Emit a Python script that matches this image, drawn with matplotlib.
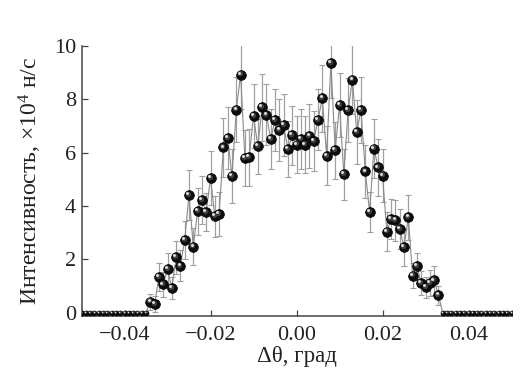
import matplotlib
matplotlib.use("Agg")
import matplotlib.pyplot as plt
from matplotlib.transforms import offset_copy

plt.rcParams['font.family'] = ['Liberation Serif', 'DejaVu Serif']
plt.rcParams['mathtext.fontset'] = 'custom'
plt.rcParams['mathtext.rm'] = 'Liberation Serif'
plt.rcParams['mathtext.it'] = 'Liberation Serif:italic'

# measured points (delta theta, deg) and intensity (x1e4 counts/s)
theta = [-0.034, -0.033, -0.032, -0.031, -0.030, -0.029, -0.028, -0.027, -0.026, -0.025,
         -0.024, -0.023, -0.022, -0.021, -0.020, -0.019, -0.018, -0.017, -0.016, -0.015,
         -0.014, -0.013, -0.012, -0.011, -0.010, -0.009, -0.008, -0.007, -0.006, -0.005,
         -0.004, -0.003, -0.002, -0.001, 0.000, 0.001, 0.002, 0.003, 0.004, 0.005,
         0.006, 0.007, 0.008, 0.009, 0.010, 0.011, 0.012, 0.013, 0.014, 0.015,
         0.016, 0.017, 0.018, 0.019, 0.020, 0.021, 0.022, 0.023, 0.024, 0.025,
         0.026, 0.027, 0.028, 0.029, 0.030, 0.031, 0.032, 0.033]
intensity = [0.42, 0.33, 1.34, 1.06, 1.64, 0.93, 2.08, 1.76, 2.73, 4.41,
             2.48, 3.80, 4.22, 3.77, 5.05, 3.61, 3.70, 6.19, 6.54, 5.12,
             7.61, 8.92, 5.78, 5.82, 7.38, 6.23, 7.70, 7.41, 6.50, 7.22,
             6.85, 7.03, 6.13, 6.65, 6.30, 6.50, 6.30, 6.63, 6.44, 7.23,
             8.03, 5.88, 9.36, 6.08, 7.79, 5.19, 7.58, 8.73, 6.76, 7.59,
             5.29, 3.77, 6.15, 5.44, 5.14, 3.04, 3.50, 3.46, 3.13, 2.46,
             3.57, 1.39, 1.74, 1.12, 0.95, 1.12, 1.21, 0.66]
errors = [0.30, 0.30, 0.54, 0.48, 0.58, 0.42, 0.62, 0.58, 0.72, 0.95,
          0.68, 0.87, 0.90, 0.72, 1.00, 0.78, 0.82, 1.12, 1.15, 1.00,
          1.20, 1.30, 1.05, 1.06, 1.20, 1.04, 1.25, 1.14, 1.12, 1.16,
          1.17, 1.15, 1.06, 1.10, 1.05, 1.12, 1.05, 1.20, 1.12, 1.15,
          1.25, 1.10, 1.30, 1.07, 1.20, 0.95, 1.20, 1.30, 1.20, 1.22,
          1.00, 0.75, 1.12, 1.05, 1.00, 0.74, 0.75, 0.78, 0.75, 0.69,
          0.83, 0.46, 0.50, 0.45, 0.40, 0.50, 0.55, 0.36]

# zero-intensity points outside the peak
theta_zero_left = [-0.050, -0.049, -0.048, -0.047, -0.046, -0.045, -0.044, -0.043,
                   -0.042, -0.041, -0.040, -0.039, -0.038, -0.037, -0.036, -0.035]
theta_zero_right = [0.034, 0.035, 0.036, 0.037, 0.038, 0.039, 0.040, 0.041, 0.042,
                    0.043, 0.044, 0.045, 0.046, 0.047, 0.048, 0.049, 0.050]
zero_left = [0.0] * len(theta_zero_left)
zero_right = [0.0] * len(theta_zero_right)

xticks = [-0.04, -0.02, 0.00, 0.02, 0.04]
xticklabels = ['\u22120.04', '\u22120.02', '0.00', '0.02', '0.04']
yticks = [0, 2, 4, 6, 8, 10]

fig = plt.figure(figsize=(5.32, 3.87), dpi=100)
ax = fig.add_axes([0.1532, 0.1835, 0.8083, 0.6984])

all_x = theta_zero_left + theta + theta_zero_right
all_y = zero_left + intensity + zero_right
ax.plot(all_x, all_y, color='#8a8a8a', lw=0.8, zorder=2)
ax.errorbar(theta, intensity, yerr=errors, fmt='none', ecolor='#a0a0a0',
            elinewidth=0.9, capsize=2.2, capthick=0.8, zorder=1)

def sphere(xs, ys, size, z):
    ax.plot(xs, ys, ls='none', marker='o', ms=size, mfc='#0d0d0d', mec='#000000',
            mew=0.5, zorder=z)
    tr1 = offset_copy(ax.transData, fig=fig, x=-size * 0.10, y=size * 0.12, units='points')
    ax.plot(xs, ys, ls='none', marker='o', ms=size * 0.55, mfc='#404040', mec='none',
            transform=tr1, zorder=z + 0.1)
    tr2 = offset_copy(ax.transData, fig=fig, x=-size * 0.18, y=size * 0.20, units='points')
    ax.plot(xs, ys, ls='none', marker='o', ms=size * 0.30, mfc='#e0e0e0', mec='none',
            transform=tr2, zorder=z + 0.2)

sphere(theta_zero_left + theta_zero_right, zero_left + zero_right, 3.6, 3)
sphere(theta, intensity, 7.0, 4)

ax.set_xlim(-0.05, 0.05)
ax.set_ylim(-0.12, 10)
ax.set_xticks(xticks)
ax.set_xticklabels(xticklabels)
ax.set_yticks(yticks)
for s in ['top', 'right']:
    ax.spines[s].set_visible(False)
for s in ['left', 'bottom']:
    ax.spines[s].set_color('#444444')
    ax.spines[s].set_linewidth(1.1)
ax.tick_params(direction='in', length=4, width=0.9, color='#444444',
               labelsize=16, labelcolor='#222222')
ax.tick_params(axis='x', pad=7)
ax.tick_params(axis='y', pad=4)
ax.set_xlabel('\u0394\u03b8, град', fontsize=16.5, color='#222222', labelpad=1)
ax.set_ylabel('Интенсивность, \u00d710$^{4}$ н/с', fontsize=17, color='#222222',
              labelpad=7)

fig.savefig('out.png', dpi=100)
